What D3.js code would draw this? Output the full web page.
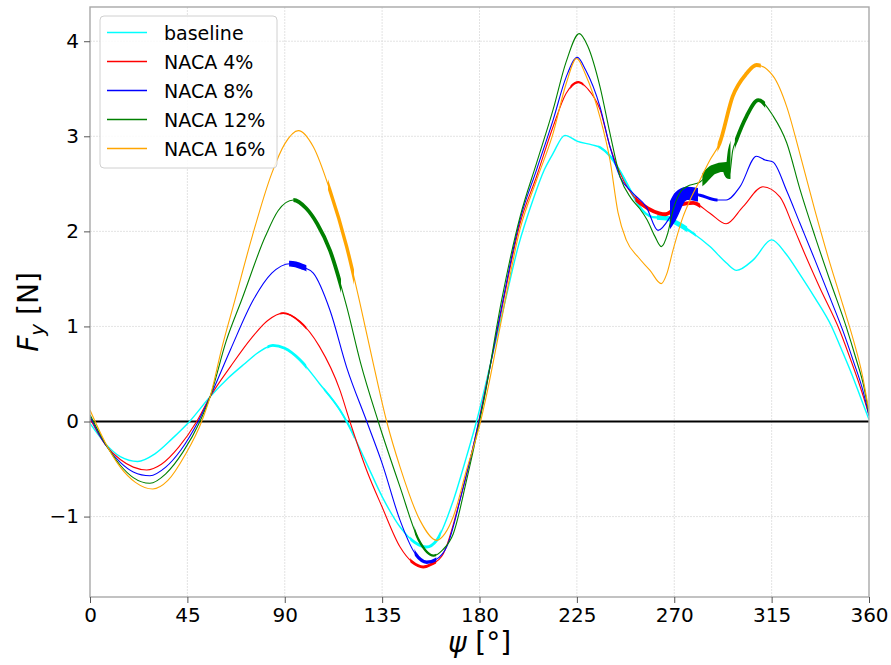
<!DOCTYPE html>
<html>
<head>
<meta charset="utf-8">
<style>
  body { margin: 0; background: #fff; }
  svg { font-family: "DejaVu Sans", sans-serif; }
</style>
</head>
<body>
<svg id="chart" width="891" height="665"></svg>
<script src="https://cdn.jsdelivr.net/npm/d3@7"></script>
<script>

// series names and colours
var names = ["baseline", "NACA 4%", "NACA 8%", "NACA 12%", "NACA 16%"]
var colors = ["#00ffff", "#ff0000", "#0000ff", "#008000", "#ffa500"]

var xTicks = [0, 45, 90, 135, 180, 225, 270, 315, 360]
var yTicks = [-1, 0, 1, 2, 3, 4]

// psi [deg] / Fy [N]
var baseDeg = [0, 7, 14, 22, 30, 38, 46, 55.5, 64, 71.6, 78, 84.5, 90, 97, 106, 115.5, 118.6, 127.8, 135, 143.3, 150, 155.6, 160.2, 167.9, 174, 178.6, 185, 192, 198, 204.7, 210, 214, 219.5, 225, 232, 236, 240, 245, 250, 254, 260, 266.5, 271, 278.7, 286.5, 294, 298.8, 306.5, 315, 321.4, 328, 335, 342.7, 348, 352, 356, 360]
var baseFy  = [-0.02, -0.23, -0.37, -0.42, -0.34, -0.18, 0.0, 0.26, 0.46, 0.61, 0.73, 0.80, 0.77, 0.65, 0.40, 0.12, 0.0, -0.44, -0.79, -1.11, -1.27, -1.32, -1.25, -0.83, -0.37, 0.0, 0.6, 1.28, 1.85, 2.33, 2.65, 2.82, 3.01, 2.95, 2.91, 2.88, 2.80, 2.63, 2.42, 2.26, 2.15, 2.14, 2.09, 1.98, 1.84, 1.67, 1.59, 1.70, 1.91, 1.77, 1.55, 1.30, 1.0, 0.72, 0.50, 0.26, 0.02]

var n4Deg = [0, 7, 14, 20, 26.2, 33, 41, 49.3, 55.5, 65, 74.7, 82, 89.3, 97, 106, 115.5, 120.1, 127.8, 135, 143.3, 149, 154, 158, 163.3, 170.9, 175.5, 179.6, 182, 190, 198.7, 206.4, 214, 220, 225.7, 230, 235.7, 240.3, 245, 252.6, 258, 263, 266, 272.6, 278.7, 286.5, 294, 301.8, 311, 318.9, 325, 330, 337, 346.6, 352, 356, 360]
var n4Fy  = [0.03, -0.24, -0.40, -0.48, -0.51, -0.45, -0.27, 0.0, 0.26, 0.58, 0.88, 1.06, 1.14, 1.05, 0.79, 0.33, 0.0, -0.51, -0.90, -1.32, -1.48, -1.53, -1.50, -1.39, -0.83, -0.42, 0.0, 0.26, 1.15, 2.08, 2.58, 3.10, 3.45, 3.57, 3.50, 3.28, 2.89, 2.61, 2.33, 2.24, 2.19, 2.18, 2.28, 2.30, 2.19, 2.08, 2.26, 2.47, 2.36, 2.05, 1.78, 1.42, 0.95, 0.62, 0.36, 0.07]

var n8Deg = [0, 7, 14, 20, 27.7, 35, 42, 50, 55.5, 65, 75.5, 84, 92.4, 98, 103.2, 110.9, 118.6, 127.9, 135, 143.3, 150, 155.6, 160, 164.8, 172.5, 179.7, 181.8, 190, 198.7, 206.4, 214, 220, 225.2, 229, 235.7, 240.3, 245, 251, 257, 262.5, 268, 272.6, 276, 281.9, 289.6, 294, 300.4, 308, 312, 315.6, 321.9, 328, 335, 342, 348, 353, 357, 360]
var n8Fy  = [0.05, -0.24, -0.43, -0.53, -0.57, -0.48, -0.30, 0.0, 0.26, 0.76, 1.28, 1.56, 1.66, 1.63, 1.56, 1.17, 0.57, 0.0, -0.44, -1.04, -1.38, -1.48, -1.45, -1.32, -0.69, 0.0, 0.22, 1.18, 2.12, 2.65, 3.17, 3.62, 3.83, 3.70, 3.31, 2.89, 2.57, 2.40, 2.26, 2.01, 2.15, 2.36, 2.40, 2.38, 2.33, 2.33, 2.47, 2.79, 2.75, 2.73, 2.43, 2.09, 1.70, 1.30, 0.95, 0.62, 0.34, 0.06]

var n12Deg = [0, 7, 14, 20, 27.7, 35, 43, 50.8, 55.5, 63, 70.1, 80.9, 87, 94, 100, 105, 110.9, 118.6, 125, 133.2, 143.3, 152, 158.7, 163, 167.9, 174, 180, 182, 190, 198.7, 206.4, 214, 220, 226.1, 230, 235.7, 240.3, 245, 250, 254, 257.5, 261, 264, 267, 269.4, 273, 275.7, 281.9, 288, 294, 295.5, 297, 298.7, 303.4, 308.8, 315.8, 322, 328, 335, 342, 349.7, 354, 357.5, 360]
var n12Fy  = [0.07, -0.23, -0.46, -0.59, -0.65, -0.55, -0.32, 0.0, 0.26, 0.85, 1.28, 1.94, 2.22, 2.33, 2.24, 2.08, 1.80, 1.21, 0.62, 0.0, -0.69, -1.25, -1.41, -1.35, -1.18, -0.62, 0.0, 0.22, 1.25, 2.15, 2.72, 3.28, 3.78, 4.08, 3.95, 3.52, 3.03, 2.57, 2.35, 2.24, 2.12, 1.95, 1.84, 1.98, 2.22, 2.42, 2.47, 2.52, 2.65, 2.68, 2.60, 2.85, 2.96, 3.21, 3.38, 3.21, 2.93, 2.45, 1.95, 1.48, 0.98, 0.66, 0.38, 0.08]

var n16Deg = [0, 7, 14, 21, 29, 36, 44, 51.6, 55.5, 61, 67, 75, 84, 90, 96.3, 103.2, 110.9, 118.6, 124.8, 131, 137.1, 143.3, 152.5, 160.2, 164, 167.9, 174, 180.5, 183, 190, 198.7, 206.4, 214, 220, 224.9, 229, 235.7, 240.3, 244, 247.8, 253.3, 258.8, 264, 266.5, 269.4, 274, 277.3, 281, 286.5, 291, 297, 303.4, 308, 315.8, 322, 328, 335, 342, 348, 353, 357, 360]
var n16Fy  = [0.12, -0.22, -0.48, -0.64, -0.71, -0.62, -0.35, 0.0, 0.26, 0.78, 1.28, 1.95, 2.61, 2.92, 3.06, 2.89, 2.43, 1.84, 1.24, 0.6, 0.0, -0.48, -1.04, -1.25, -1.18, -1.00, -0.51, 0.0, 0.25, 1.05, 2.02, 2.54, 3.03, 3.55, 3.82, 3.65, 3.2, 2.75, 2.2, 1.91, 1.73, 1.59, 1.45, 1.55, 1.80, 2.15, 2.33, 2.50, 2.75, 2.93, 3.42, 3.66, 3.75, 3.63, 3.31, 2.82, 2.22, 1.66, 1.22, 0.84, 0.48, 0.1]

// stretches where the trace is fuzzy: [from deg, to deg, half width in N]
var baseNoise = [[82, 100, 0.015], [108, 122, 0.01], [148, 162, 0.015], [235, 280, 0.012], [262, 276, 0.025]]
var n4Noise   = [[88, 100, 0.01], [148, 160, 0.015], [222, 228, 0.012], [252, 282, 0.02]]
var n8Noise   = [[92, 100, 0.03], [150, 160, 0.018], [268, 281, 0.07], [281, 290, 0.015]]
var n12Noise  = [[94, 116, 0.02], [150, 160, 0.012], [283, 296, 0.05], [298, 312, 0.02]]
var n16Noise  = [[110, 122, 0.018], [290, 310, 0.02]]

var degs = [baseDeg, n4Deg, n8Deg, n12Deg, n16Deg]
var fys = [baseFy, n4Fy, n8Fy, n12Fy, n16Fy]
var noises = [baseNoise, n4Noise, n8Noise, n12Noise, n16Noise]

var pL = 90, pR = 869, pT = 7, pB = 597

var x = d3.scaleLinear().domain([0, 360]).range([pL, pR])
var y = d3.scaleLinear().domain([-1.846, 4.36]).range([pB, pT])

var svg = d3.select("#chart")

// grid
svg.append("g").selectAll("line").data(xTicks.slice(1, -1)).enter().append("line")
   .attr("x1", d => x(d)).attr("x2", d => x(d))
   .attr("y1", pT).attr("y2", pB)
   .attr("stroke", "#dcdcdc").attr("stroke-width", 0.8).attr("stroke-dasharray", "2,1")
svg.append("g").selectAll("line").data(yTicks).enter().append("line")
   .attr("x1", pL).attr("x2", pR)
   .attr("y1", d => y(d)).attr("y2", d => y(d))
   .attr("stroke", "#dcdcdc").attr("stroke-width", 0.8).attr("stroke-dasharray", "2,1")

// clip for plot area
var defs = svg.append("defs")
defs.append("clipPath").attr("id", "plotclip").append("rect")
    .attr("x", pL).attr("y", pT).attr("width", pR - pL).attr("height", pB - pT)

var line = d3.line().curve(d3.curveMonotoneX)
var plot = svg.append("g").attr("clip-path", "url(#plotclip)")

// zero line
plot.append("line").attr("x1", pL).attr("x2", pR)
    .attr("y1", y(0)).attr("y2", y(0))
    .attr("stroke", "#000").attr("stroke-width", 2)

var pxPerN = y(0) - y(1)

names.forEach(function(nm, i) {
  var pts = degs[i].map((d, j) => [x(d), y(fys[i][j])])
  var path = line(pts)
  plot.append("path").attr("d", path).attr("fill", "none")
      .attr("stroke", colors[i]).attr("stroke-width", i == 0 ? 1.4 : 1.1)
  noises[i].forEach(function(nz, k) {
    var id = "nz" + i + "_" + k
    defs.append("clipPath").attr("id", id).append("rect")
        .attr("x", x(nz[0])).attr("y", pT)
        .attr("width", x(nz[1]) - x(nz[0])).attr("height", pB - pT)
    plot.append("g").attr("clip-path", "url(#" + id + ")")
        .append("path").attr("d", path).attr("fill", "none")
        .attr("stroke", colors[i]).attr("stroke-width", Math.max(1.4, 2 * nz[2] * pxPerN))
  })
})

// spines
svg.append("rect").attr("x", pL).attr("y", pT)
   .attr("width", pR - pL).attr("height", pB - pT)
   .attr("fill", "none").attr("stroke", "#a8a8a8").attr("stroke-width", 1.4)

// axes
var xAxis = svg.append("g").attr("transform", "translate(0," + pB + ")")
   .call(d3.axisBottom(x).tickValues(xTicks).tickSize(6).tickPadding(5).tickFormat(d3.format("d")))
var yAxis = svg.append("g").attr("transform", "translate(" + pL + ",0)")
   .call(d3.axisLeft(y).tickValues(yTicks).tickSize(6).tickPadding(5).tickFormat(d => d < 0 ? "\u2212" + Math.abs(d) : d))
;[xAxis, yAxis].forEach(function(a) {
  a.select(".domain").remove()
  a.selectAll("line").attr("stroke", "#555")
  a.selectAll("text").attr("font-size", 20).attr("fill", "#000")
    .attr("font-family", "DejaVu Sans, sans-serif")
})

// axis titles
var xl = svg.append("text").attr("x", (pL + pR) / 2).attr("y", 652)
   .attr("text-anchor", "middle").attr("font-size", 28)
xl.append("tspan").attr("font-style", "italic").text("\u03c8")
xl.append("tspan").text(" [\u00b0]")

var yl = svg.append("text").attr("transform", "translate(38,312) rotate(-90)")
   .attr("text-anchor", "middle").attr("font-size", 28)
yl.append("tspan").attr("font-style", "italic").text("F")
yl.append("tspan").attr("font-style", "italic").attr("font-size", 20).attr("dy", 6).text("y")
yl.append("tspan").attr("dy", -6).text(" [N]")

// legend
var lg = svg.append("g")
lg.append("rect").attr("x", 100).attr("y", 16).attr("width", 177).attr("height", 152).attr("rx", 4)
  .attr("fill", "#fff").attr("fill-opacity", 0.85).attr("stroke", "#d0d0d0").attr("stroke-width", 1)
names.forEach(function(nm, i) {
  var yy = 32.5 + i * 29
  lg.append("line").attr("x1", 107).attr("x2", 147).attr("y1", yy).attr("y2", yy)
    .attr("stroke", colors[i]).attr("stroke-width", 1.5)
  lg.append("text").attr("x", 164).attr("y", yy + 7).attr("font-size", 19).text(nm)
})

</script>
</body>
</html>
